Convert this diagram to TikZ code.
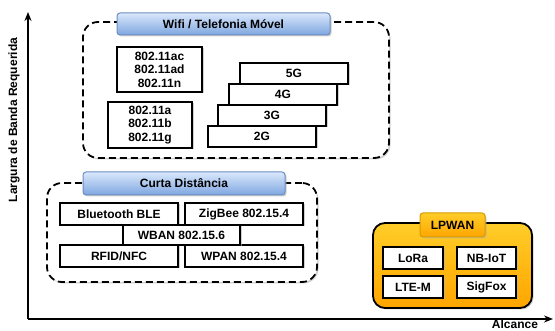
\documentclass[tikz,border=0pt]{standalone}
\usepackage{fontspec}
\setmainfont{Liberation Sans}
\usetikzlibrary{arrows.meta,shadows}

\definecolor{titletop}{HTML}{DAE8FC}
\definecolor{titlebot}{HTML}{7EA6E0}
\definecolor{titleline}{HTML}{6C8EBF}
\definecolor{lptop}{HTML}{FFCD28}
\definecolor{lpbot}{HTML}{FFA500}
\definecolor{lpline}{HTML}{D79B00}

\begin{document}
\begin{tikzpicture}[x=1pt, y=-1pt,
  every node/.style={font=\fontsize{12}{13.5}\selectfont\bfseries, inner sep=0pt},
  shad/.style={drop shadow={shadow xshift=1.5pt, shadow yshift=-1.5pt, fill=black!30, opacity=.6}},
  group/.style={draw, line width=1.8pt, dash pattern=on 7pt off 4pt, rounded corners=15pt, fill=white, shad},
  title/.style={draw=titleline, line width=1pt, rounded corners=3pt, top color=titletop, bottom color=titlebot, shad},
  tech/.style={draw, line width=1.8pt, fill=white, align=center, shad},
  lpbox/.style={draw, line width=1.8pt, rounded corners=12pt, top color=lptop, bottom color=lpbot, shad},
  lptitle/.style={draw=lpline, line width=1pt, rounded corners=3pt, top color=lptop, bottom color=lpbot, shad}]

\useasboundingbox (0,0) rectangle (555,331);

\coordinate (origin) at (28,319);
\coordinate (ytop) at (28,12);
\coordinate (xend) at (553,319);

\draw [line width=1.6pt, -{Stealth[length=9pt, width=7pt]}] (origin) -- (ytop);
\draw [line width=1.6pt, -{Stealth[length=9pt, width=7pt]}] (origin) -- (xend);

\node [rotate=90] (ylabel) at (14,120) {Largura de Banda Requerida};
\node (xlabel) at (515,324.5) {Alcance};

\node [group, minimum width=306, minimum height=136] (wifi) at (236,90) {};
\node [title, minimum width=213, minimum height=22] (wifititle) at (223.5,24) {Wifi / Telefonia Móvel};

\node [tech, minimum width=85, minimum height=45] (wifiac) at (159.5,69.5) {802.11ac\\802.11ad\\802.11n};
\node [tech, minimum width=84, minimum height=46] (wifia) at (150,125) {802.11a\\802.11b\\802.11g};

\node [tech, minimum width=108, minimum height=21] (g5) at (294,73.5) {5G};
\node [tech, minimum width=108, minimum height=21] (g4) at (283,94.5) {4G};
\node [tech, minimum width=108, minimum height=21] (g3) at (272,115.5) {3G};
\node [tech, minimum width=108, minimum height=21] (g2) at (262,136.5) {2G};

\node [group, minimum width=270, minimum height=99] (curta) at (182,232.5) {};
\node [title, minimum width=202, minimum height=23] (curtatitle) at (184,183.5) {Curta Distância};

\node [tech, minimum width=118, minimum height=22] (ble) at (119,214) {Bluetooth BLE};
\node [tech, minimum width=118, minimum height=22] (zigbee) at (244,214) {ZigBee 802.15.4};
\node [tech, minimum width=118, minimum height=22] (rfid) at (119,256) {RFID/NFC};
\node [tech, minimum width=118, minimum height=22] (wpan) at (244,256) {WPAN 802.15.4};
\node [tech, minimum width=117, minimum height=20] (wban) at (181.5,235) {WBAN 802.15.6};

\node [lpbox, minimum width=159, minimum height=85] (lpwan) at (452.5,265.5) {};
\node [lptitle, minimum width=65, minimum height=24] (lpwantitle) at (452.5,225) {LPWAN};

\node [tech, minimum width=60, minimum height=22] (lora) at (413,258) {LoRa};
\node [tech, minimum width=59, minimum height=22] (nbiot) at (486.5,258) {NB-IoT};
\node [tech, minimum width=60, minimum height=22] (ltem) at (413,287) {LTE-M};
\node [tech, minimum width=59, minimum height=22] (sigfox) at (486.5,287) {SigFox};
\end{tikzpicture}
\end{document}
